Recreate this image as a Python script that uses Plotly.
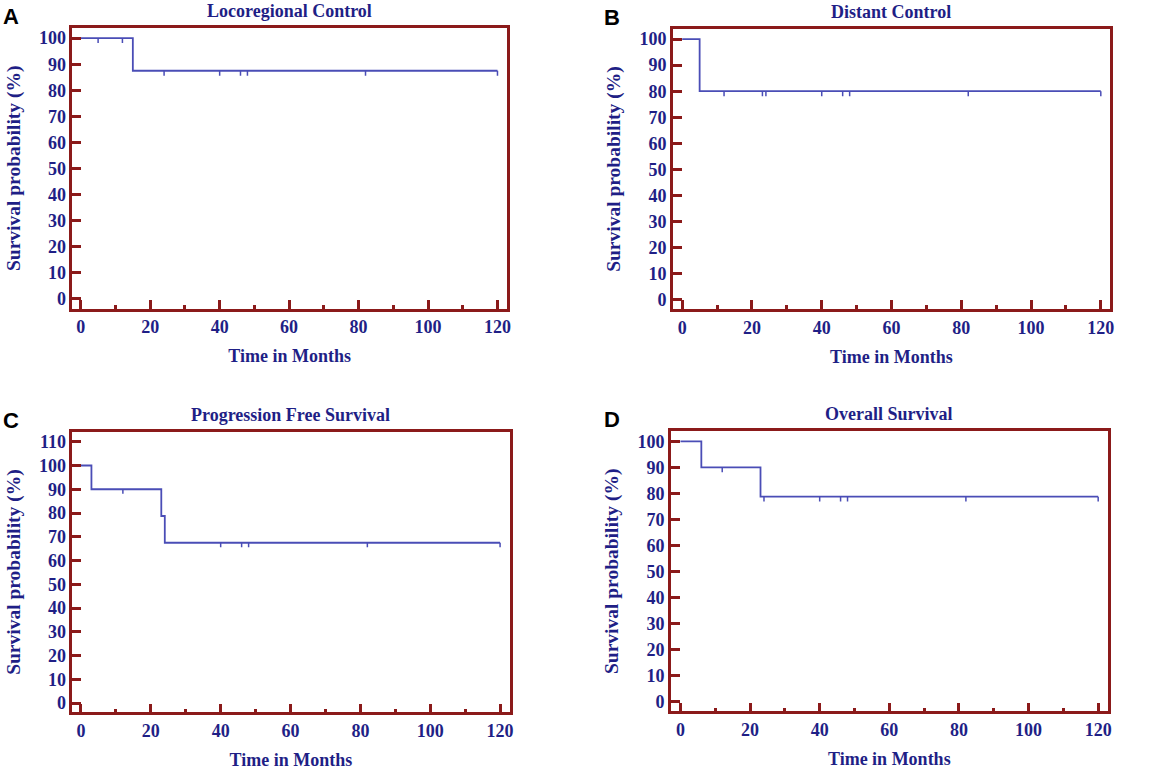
import plotly.graph_objects as go

# ---- data ----
titles = ["Locoregional Control", "Distant Control", "Progression Free Survival", "Overall Survival"]
letters = ["A", "B", "C", "D"]

# step times and survival levels (percent)
a_times = [0, 15, 120]
a_surv = [100, 87.5, 87.5]
a_cens_t = [5, 12, 24, 40, 46, 48, 82, 120]

b_times = [0, 5, 120]
b_surv = [100, 80, 80]
b_cens_t = [12, 23, 24, 40, 46, 48, 82, 120]

c_times = [0, 3, 23, 24, 120]
c_surv = [100, 90, 78.75, 67.5, 67.5]
c_cens_t = [12, 40, 46, 48, 82, 120]

d_times = [0, 6, 23, 120]
d_surv = [100, 90, 78.75, 78.75]
d_cens_t = [12, 24, 40, 46, 48, 82, 120]

y_max_ticks = [100, 100, 110, 100]

panels = [
    (a_times, a_surv, a_cens_t),
    (b_times, b_surv, b_cens_t),
    (c_times, c_surv, c_cens_t),
    (d_times, d_surv, d_cens_t),
]

# ---- style ----
LINE = "#4a4db6"
TEXT = "#1f1f86"
FRAME = "#8b1a1a"
SERIF = "Liberation Serif"

W, H = 1158, 772

domains = [
    dict(x=[0.0628, 0.4396], y=[0.5997, 0.9637]),
    dict(x=[0.5838, 0.9623], y=[0.5990, 0.9624]),
    dict(x=[0.0628, 0.4419], y=[0.0760, 0.4400]),
    dict(x=[0.5820, 0.9606], y=[0.0773, 0.4408]),
]
x_ranges = [[-2.4, 122.7], [-2.6, 122.5], [-2.45, 122.7], [-2.7, 122.7]]

fig = go.Figure()


def surv_at(times, surv, t):
    val = surv[0]
    for ti, si in zip(times, surv):
        if t >= ti:
            val = si
    return val


for i, (times, surv, cens) in enumerate(panels):
    xa = "x" if i == 0 else f"x{i+1}"
    ya = "y" if i == 0 else f"y{i+1}"
    fig.add_trace(go.Scatter(
        x=times, y=surv, mode="lines", line=dict(color=LINE, width=1.8, shape="hv"),
        xaxis=xa, yaxis=ya, showlegend=False, hoverinfo="skip"))
    cx, cy = [], []
    for t in cens:
        s = surv_at(times, surv, t)
        cx += [t, t, None]
        cy += [s, s - 1.9, None]
    fig.add_trace(go.Scatter(
        x=cx, y=cy, mode="lines", line=dict(color=LINE, width=1.5),
        xaxis=xa, yaxis=ya, showlegend=False, hoverinfo="skip"))

layout = dict(
    width=W, height=H,
    margin=dict(l=0, r=0, t=0, b=0),
    paper_bgcolor="white", plot_bgcolor="white",
    font=dict(family=SERIF, color=TEXT, size=15),
    annotations=[],
)

for i in range(4):
    sx = "" if i == 0 else str(i + 1)
    ymax = y_max_ticks[i]
    if ymax == 110:
        yr = [-3.9, 114.2]
    else:
        yr = [-3.7, 103.9]
    layout["xaxis" + sx] = dict(
        domain=domains[i]["x"], anchor="y" + sx, range=x_ranges[i],
        tickmode="linear", tick0=0, dtick=20,
        ticks="inside", ticklen=9, tickwidth=2.5, tickcolor=FRAME,
        minor=dict(ticks="inside", ticklen=4, tickwidth=2.5, tickcolor=FRAME, dtick=10, tick0=0),
        showline=True, linecolor=FRAME, linewidth=2.8, mirror=True,
        showgrid=False, zeroline=False,
        tickfont=dict(family=SERIF, size=18, color=TEXT, weight="bold"),
        title=dict(text="<b>Time in Months</b>", font=dict(family=SERIF, size=18, color=TEXT), standoff=14),
        fixedrange=True,
    )
    layout["yaxis" + sx] = dict(
        domain=domains[i]["y"], anchor="x" + sx, range=yr,
        tickmode="linear", tick0=0, dtick=10,
        ticks="inside", ticklen=9, tickwidth=2.5, tickcolor=FRAME,
        showline=True, linecolor=FRAME, linewidth=2.8, mirror=True,
        showgrid=False, zeroline=False,
        tickfont=dict(family=SERIF, size=18, color=TEXT, weight="bold"),
        title=dict(text="<b>Survival probability (%)</b>", font=dict(family=SERIF, size=19.5, color=TEXT), standoff=14),
        fixedrange=True,
    )
    xd = domains[i]["x"]
    yd = domains[i]["y"]
    layout["annotations"].append(dict(
        text=f"<b>{titles[i]}</b>", x=(xd[0] + xd[1]) / 2, y=yd[1], xref="paper", yref="paper",
        xanchor="center", yanchor="bottom", yshift=5, showarrow=False,
        font=dict(family=SERIF, size=18, color=TEXT)))
    lx = 0.001 if i % 2 == 0 else 0.5225
    layout["annotations"].append(dict(
        text=f"<b>{letters[i]}</b>", x=lx, y=yd[1], xref="paper", yref="paper",
        xanchor="left", yanchor="bottom", yshift=-3, showarrow=False,
        font=dict(family="Liberation Sans", size=22, color="black")))

fig.update_layout(**layout)
fig.write_html("out.html", config={"displayModeBar": False},
               post_script="document.body.style.margin='0px';")
